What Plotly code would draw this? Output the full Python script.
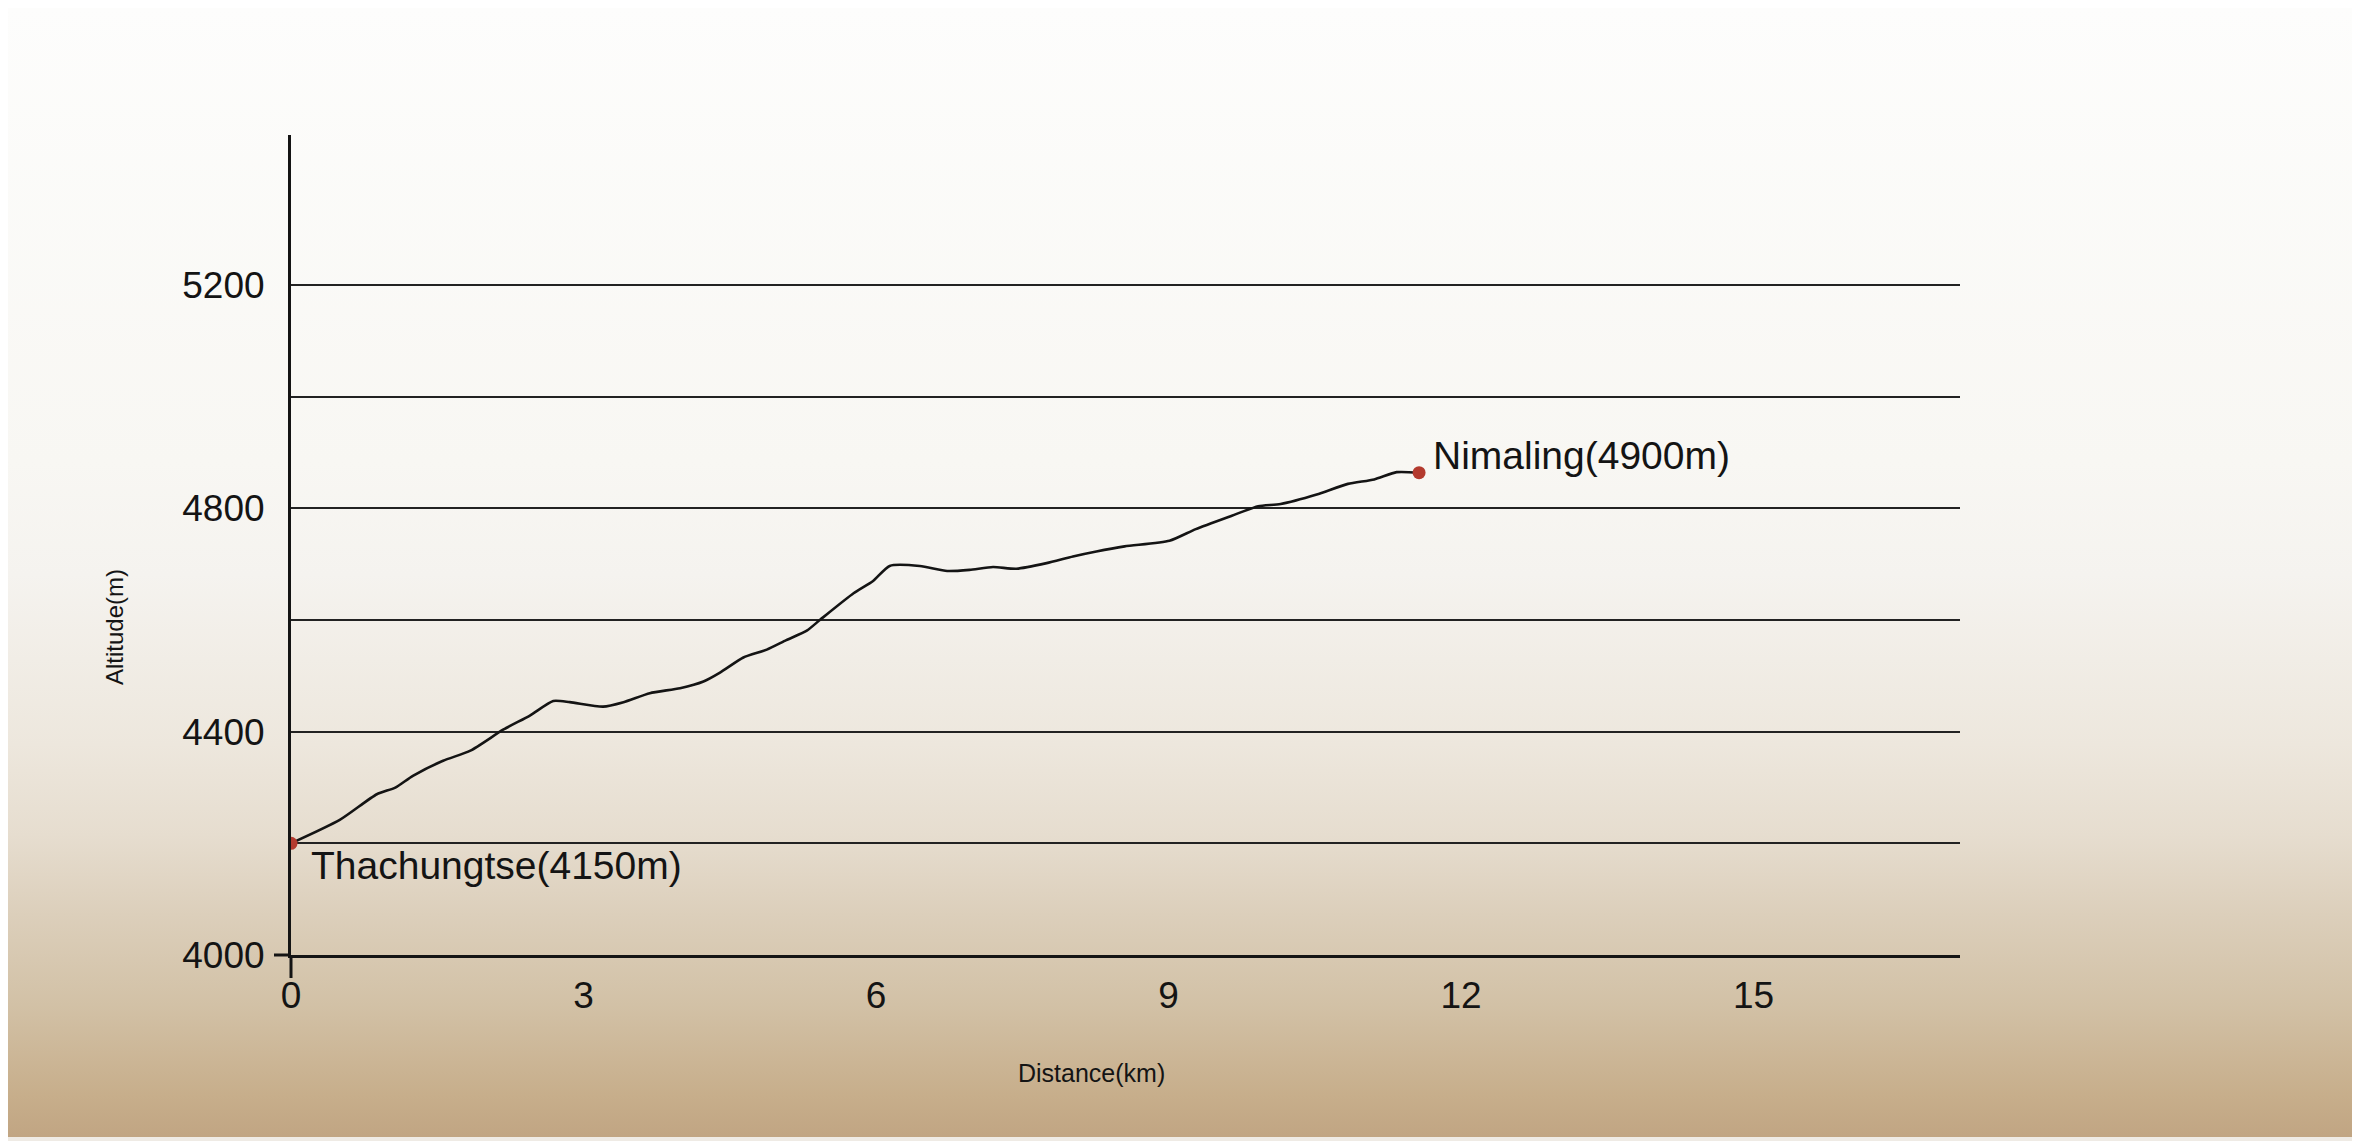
import base64
import plotly.graph_objects as go

# trail profile
distance_km = [0.00, 0.50, 0.88, 1.07, 1.25, 1.56, 1.84, 2.18, 2.45, 2.69, 2.86,
               3.20, 3.41, 3.68, 3.99, 4.23, 4.40, 4.64, 4.88, 5.08, 5.29, 5.43,
               5.77, 5.97, 6.14, 6.45, 6.73, 6.96, 7.20, 7.44, 7.75, 8.02, 8.26,
               8.55, 9.01, 9.28, 9.65, 9.92, 10.15, 10.52, 10.84, 11.11, 11.34, 11.57]
altitude_m = [4200, 4242, 4288, 4300, 4321, 4348, 4366, 4404, 4429, 4455, 4453,
              4445, 4453, 4469, 4478, 4490, 4506, 4533, 4547, 4564, 4581, 4601,
              4648, 4670, 4697, 4697, 4688, 4690, 4695, 4692, 4702, 4714, 4723,
              4732, 4742, 4763, 4787, 4804, 4808, 4825, 4844, 4852, 4865, 4864]

# camps at both ends
stop_names = ["Thachungtse(4150m)", "Nimaling(4900m)"]
stop_km = [0.00, 11.57]
stop_alt = [4200, 4864]

# axis ticks
x_ticks = [0, 3, 6, 9, 12, 15]
y_ticks = [4000, 4200, 4400, 4600, 4800, 5000, 5200]
y_ticktext = ["4000", "", "4400", "", "4800", "", "5200"]

# the page body has an 8px margin, so the figure is made that much smaller
OFF = 8
W, H = 2360 - OFF, 1141 - OFF
L, R, T, B = 291 - OFF, 400, 135 - OFF, 186
pw, ph = W - L - R, H - T - B

# paper-like background, white at top fading to sand at the bottom
stops = [(0.0, "#fdfdfc"), (0.40, "#f8f7f3"), (0.50, "#f5f3ef"), (0.65, "#ede7dd"),
         (0.73, "#e6ddcf"), (0.80, "#dccfbb"), (0.88, "#d2c1a6"), (0.96, "#c7ae8b"),
         (1.0, "#c0a482")]
stop_svg = "".join(f'<stop offset="{o}" stop-color="{c}"/>' for o, c in stops)
svg = (f'<svg xmlns="http://www.w3.org/2000/svg" width="{W}" height="{H}" '
       f'preserveAspectRatio="none"><defs><linearGradient id="g" x1="0" y1="0" x2="0" y2="1">'
       f'{stop_svg}</linearGradient></defs><rect width="{W}" height="{H}" fill="url(#g)"/></svg>')
bg_src = "data:image/svg+xml;base64," + base64.b64encode(svg.encode()).decode()

font = "Liberation Sans, Arial, Helvetica, sans-serif"
ink = "#141414"

fig = go.Figure()
fig.add_trace(go.Scatter(x=distance_km, y=altitude_m, mode="lines",
                         line=dict(color=ink, width=2.6, shape="spline", smoothing=0.6),
                         hoverinfo="skip"))
fig.add_trace(go.Scatter(x=stop_km, y=stop_alt, mode="markers",
                         marker=dict(color="#b33a2e", size=13), hoverinfo="skip"))

fig.add_annotation(x=stop_km[0], y=stop_alt[0], text=stop_names[0], showarrow=False,
                   xanchor="left", yanchor="middle", xshift=18, yshift=-22,
                   font=dict(family=font, size=39, color=ink))
fig.add_annotation(x=stop_km[1], y=stop_alt[1], text=stop_names[1], showarrow=False,
                   xanchor="left", yanchor="middle", xshift=12, yshift=17,
                   font=dict(family=font, size=39, color=ink))

# axis titles (positions, minus the page margin)
fig.add_annotation(xref="paper", yref="paper", x=(1091 - OFF - L) / pw,
                   y=(H - B - (1073 - OFF)) / ph,
                   text="Distance(km)", showarrow=False, xanchor="center", yanchor="middle",
                   font=dict(family=font, size=25, color=ink))
fig.add_annotation(xref="paper", yref="paper", x=(114 - OFF - L) / pw,
                   y=(H - B - (627 - OFF)) / ph,
                   text="Altitude(m)", showarrow=False, textangle=-90,
                   xanchor="center", yanchor="middle",
                   font=dict(family=font, size=24, color=ink))

# the two little ticks at the origin
fig.add_shape(type="line", xref="paper", yref="paper", x0=0, x1=0, y0=0, y1=-23 / ph,
              line=dict(color=ink, width=3))
fig.add_shape(type="line", xref="paper", yref="paper", x0=-17 / pw, x1=0, y0=0, y1=0,
              line=dict(color=ink, width=3))

# light edge along the right and bottom of the picture
edge = dict(color="#efebe5", width=4)
fig.add_shape(type="line", xref="paper", yref="paper", x0=(W - L - 2) / pw, x1=(W - L - 2) / pw,
              y0=-B / ph, y1=(H - B) / ph, line=edge)
fig.add_shape(type="line", xref="paper", yref="paper", x0=-L / pw, x1=(W - L) / pw,
              y0=(-B + 2) / ph, y1=(-B + 2) / ph, line=edge)

fig.add_layout_image(source=bg_src, xref="paper", yref="paper", x=-L / pw, y=(H - B) / ph,
                     sizex=W / pw, sizey=H / ph, sizing="stretch",
                     xanchor="left", yanchor="top", layer="below")

fig.update_layout(
    width=W, height=H, margin=dict(l=L, r=R, t=T, b=B, autoexpand=False),
    paper_bgcolor="white", plot_bgcolor="rgba(0,0,0,0)",
    showlegend=False, font=dict(family=font, color=ink),
)
fig.update_xaxes(range=[0, pw / 97.5], tickvals=x_ticks, showgrid=False, zeroline=False,
                 showline=True, linecolor=ink, linewidth=3, ticks="",
                 ticklabelstandoff=6, tickfont=dict(size=37, color=ink))
fig.update_yaxes(range=[5469 - ph / 0.5582, 5469], tickvals=y_ticks, ticktext=y_ticktext,
                 showgrid=True, gridcolor="#222222", gridwidth=2.4, zeroline=False,
                 showline=True, linecolor=ink, linewidth=3, ticks="",
                 ticklabelstandoff=16, tickfont=dict(size=37, color=ink))

fig.write_html("out.html")
